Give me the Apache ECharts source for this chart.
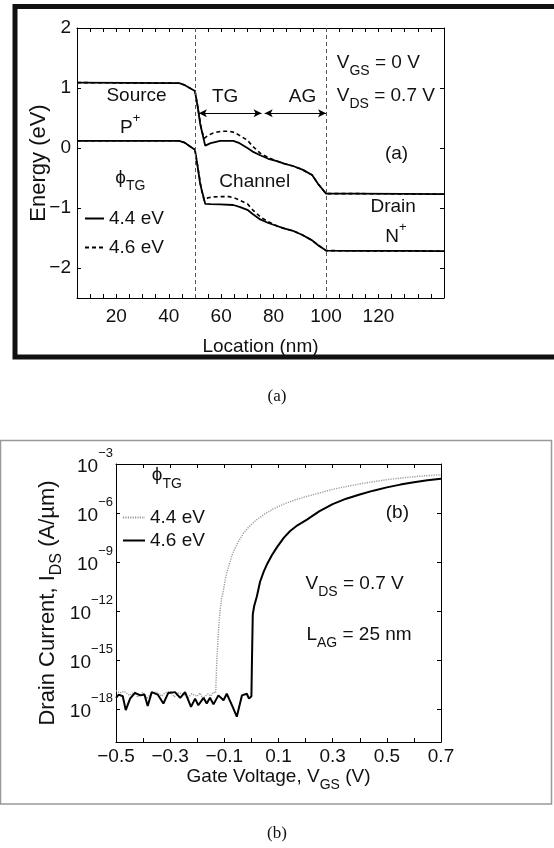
<!DOCTYPE html>
<html>
<head>
<meta charset="utf-8">
<script src="https://cdn.jsdelivr.net/npm/echarts@6/dist/echarts.min.js"></script>
<style>
  html, body { margin: 0; padding: 0; background: #fff; }
  #chart { width: 554px; height: 848px; }
</style>
</head>
<body>
<div id="chart"></div>
<script>
// (a) band diagram, location in nm, energy in eV
const bandLoc44 = [5, 44, 46, 48, 50, 51, 52, 53.9, 56, 59.6, 64.6, 67, 70, 72, 74.9, 78, 81.3, 84, 87.4, 91, 94.7, 97, 100, 110, 130, 145];
const ec44 = [1.09, 1.08, 1.05, 1.0, 0.95, 0.7, 0.4, 0.04, 0.08, 0.12, 0.12, 0.08, 0.0, -0.06, -0.12, -0.18, -0.22, -0.26, -0.3, -0.36, -0.45, -0.6, -0.76, -0.76, -0.765, -0.77];
const ev44 = [0.12, 0.12, 0.09, 0.03, -0.03, -0.3, -0.6, -0.93, -0.935, -0.94, -0.95, -0.98, -1.03, -1.1, -1.19, -1.25, -1.3, -1.34, -1.38, -1.45, -1.54, -1.62, -1.71, -1.713, -1.716, -1.72];
const bandLoc46 = [5, 44, 46, 48, 50, 51, 52.5, 53.5, 55, 57, 60, 63, 65, 67, 70, 72, 75, 78, 81.3, 84, 87.4, 91, 94.7, 97, 100, 110, 130, 145];
const ec46 = [1.09, 1.08, 1.05, 1.0, 0.95, 0.7, 0.3, 0.16, 0.21, 0.25, 0.28, 0.28, 0.26, 0.21, 0.13, 0.03, -0.09, -0.16, -0.22, -0.26, -0.3, -0.36, -0.45, -0.6, -0.76, -0.76, -0.765, -0.77];
const ev46 = [0.12, 0.12, 0.09, 0.03, -0.03, -0.3, -0.7, -0.87, -0.83, -0.815, -0.81, -0.81, -0.83, -0.87, -0.93, -1.03, -1.15, -1.23, -1.3, -1.34, -1.38, -1.45, -1.54, -1.62, -1.71, -1.713, -1.716, -1.72];
const gateEdges = [50, 100];
const locLabels = [20, 40, 60, 80, 100, 120];
const energyTicks = [-2, -1, 0, 1, 2];

// (b) transfer curves, VGS in V, log10 of IDS in A/um
const vgs44 = [-0.5, -0.485, -0.47, -0.45, -0.43, -0.42, -0.4, -0.385, -0.37, -0.35, -0.33, -0.32, -0.3, -0.285, -0.27, -0.25, -0.235, -0.22, -0.2, -0.19, -0.18, -0.16, -0.15, -0.14, -0.132, -0.128, -0.122, -0.116, -0.11, -0.104, -0.095, -0.085, -0.07, -0.05, -0.03, -0.01, 0.02, 0.05, 0.08, 0.12, 0.16, 0.2, 0.25, 0.3, 0.35, 0.4, 0.45, 0.5, 0.55, 0.6, 0.65, 0.7];
const logIds44 = [-16.85, -17.0, -16.9, -17.15, -16.95, -17.25, -16.95, -17.35, -17.0, -16.95, -17.2, -17.0, -16.9, -17.25, -17.0, -17.05, -17.3, -17.05, -17.2, -17.0, -17.35, -17.05, -17.2, -16.95, -17.0, -15.1, -13.3, -12.0, -11.2, -10.8, -9.9, -9.3, -8.5, -7.8, -7.25, -6.85, -6.4, -6.05, -5.75, -5.45, -5.2, -5.0, -4.78, -4.55, -4.38, -4.22, -4.08, -3.96, -3.86, -3.78, -3.71, -3.65];
const vgs46 = [-0.5, -0.49, -0.475, -0.464, -0.448, -0.43, -0.41, -0.395, -0.383, -0.368, -0.346, -0.325, -0.307, -0.282, -0.263, -0.245, -0.223, -0.208, -0.196, -0.177, -0.165, -0.153, -0.14, -0.122, -0.103, -0.091, -0.072, -0.054, -0.035, -0.017, -0.009, 0.0, 0.002, 0.005, 0.01, 0.02, 0.032, 0.045, 0.057, 0.075, 0.094, 0.12, 0.143, 0.17, 0.205, 0.25, 0.3, 0.35, 0.4, 0.45, 0.5, 0.55, 0.6, 0.65, 0.7];
const logIds46 = [-17.3, -17.1, -17.2, -18.05, -17.35, -17.0, -17.15, -17.1, -17.8, -16.95, -17.1, -17.65, -17.0, -16.95, -17.3, -16.95, -17.85, -17.35, -17.75, -17.3, -17.65, -17.3, -17.7, -17.15, -17.45, -17.05, -17.75, -18.45, -17.15, -17.05, -17.35, -17.2, -15.0, -12.2, -11.7, -11.1, -10.2, -9.6, -9.15, -8.6, -8.1, -7.5, -7.1, -6.75, -6.4, -5.9, -5.45, -5.12, -4.87, -4.63, -4.43, -4.26, -4.12, -4.0, -3.9];
const vgsLabels = [-0.5, -0.3, -0.1, 0.1, 0.3, 0.5, 0.7];
const decadeTicks = [-18, -15, -12, -9, -6, -3];

const FONT = "'Liberation Sans', Arial, Helvetica, sans-serif";
const TXT = '#111';
const pair = (xs, ys) => ys.map((v, i) => [xs[i], v]);
const minus = v => (v < 0 ? '\u2212' : '') + Math.abs(v);

// rich styles: m/s = main + subscript, M/p = main + superscript, b/e = 10^n
const rich = {
  m: { fontFamily: FONT, fontSize: 19, color: TXT, fill: TXT, lineHeight: 20, padding: [0, 0, 9, 0] },
  s: { fontFamily: FONT, fontSize: 14, color: TXT, fill: TXT, lineHeight: 15, padding: [11, 0, 3, 0] },
  M: { fontFamily: FONT, fontSize: 19, color: TXT, fill: TXT, lineHeight: 20, padding: [8, 0, 0, 0] },
  p: { fontFamily: FONT, fontSize: 13, color: TXT, fill: TXT, lineHeight: 14, padding: [2, 0, 12, 0] },
  b: { fontFamily: FONT, fontSize: 19, color: TXT, lineHeight: 20, padding: [11, 0, 6, 0] },
  e: { fontFamily: FONT, fontSize: 13, color: TXT, lineHeight: 15, padding: [0, 0, 22, 0] }
};
// larger one for the rotated current title
const richTitle = {
  m: { fontFamily: FONT, fontSize: 22, color: TXT, lineHeight: 23, padding: [0, 0, 10, 0] },
  s: { fontFamily: FONT, fontSize: 16, color: TXT, lineHeight: 17, padding: [12, 0, 4, 0] }
};

const axisBase = {
  type: 'value',
  axisLine: { onZero: false, lineStyle: { color: '#000', width: 1 } },
  axisTick: { inside: true, length: 4, lineStyle: { color: '#000' } },
  splitLine: { show: false },
  axisLabel: { color: TXT, fontSize: 19, fontFamily: FONT },
  nameMoveOverlap: false
};
const mirror = (o) => Object.assign({}, axisBase, o, { axisLabel: { show: false }, name: '' });

const chart = echarts.init(document.getElementById('chart'));

const option = {
  animation: false,
  textStyle: { fontFamily: FONT },
  grid: [
    { left: 77, top: 28, width: 367, height: 270, containLabel: false, outerBoundsMode: 'none' },
    { left: 116, top: 464, width: 325, height: 278, containLabel: false, outerBoundsMode: 'none' }
  ],
  xAxis: [
    Object.assign({}, axisBase, {
      gridIndex: 0, position: 'bottom', min: 5, max: 145, interval: 5,
      axisLabel: { color: TXT, fontSize: 19, fontFamily: FONT, margin: 9, customValues: locLabels },
      name: 'Location (nm)', nameLocation: 'middle', nameGap: 39,
      nameTextStyle: { color: TXT, fontSize: 19, fontFamily: FONT }
    }),
    mirror({ gridIndex: 0, position: 'top', min: 5, max: 145, interval: 5 }),
    Object.assign({}, axisBase, {
      gridIndex: 1, position: 'bottom', min: -0.5, max: 0.7, interval: 0.1,
      axisLabel: { color: TXT, fontSize: 19, fontFamily: FONT, margin: 5, customValues: vgsLabels, formatter: minus },
      name: '{m|Gate Voltage, V}{s|GS}{m| (V)}', nameLocation: 'middle', nameGap: 29,
      nameTextStyle: { rich: rich }
    }),
    mirror({ gridIndex: 1, position: 'top', min: -0.5, max: 0.7, interval: 0.1 })
  ],
  yAxis: [
    Object.assign({}, axisBase, {
      gridIndex: 0, position: 'left', min: -2.5, max: 2,
      axisTick: { inside: true, length: 4, lineStyle: { color: '#000' }, customValues: energyTicks },
      axisLabel: { color: TXT, fontSize: 19, fontFamily: FONT, margin: 6, customValues: energyTicks, formatter: minus },
      name: 'Energy (eV)', nameLocation: 'middle', nameGap: 27,
      nameTextStyle: { color: TXT, fontSize: 22, fontFamily: FONT }
    }),
    mirror({ gridIndex: 0, position: 'right', min: -2.5, max: 2,
      axisTick: { inside: true, length: 4, lineStyle: { color: '#000' }, customValues: energyTicks } }),
    Object.assign({}, axisBase, {
      gridIndex: 1, position: 'left', min: -20, max: -3,
      axisTick: { inside: true, length: 4, lineStyle: { color: '#000' }, customValues: decadeTicks },
      axisLabel: { margin: 3, customValues: decadeTicks, rich: rich,
        formatter: v => '{b|10}{e|' + minus(v) + '}' },
      name: '{m|Drain Current, I}{s|DS}{m| (A/\u00b5m)}', nameLocation: 'middle', nameGap: 52,
      nameTextStyle: { rich: richTitle }
    }),
    mirror({ gridIndex: 1, position: 'right', min: -20, max: -3,
      axisTick: { inside: true, length: 4, lineStyle: { color: '#000' }, customValues: decadeTicks } })
  ],
  legend: [
    { left: 84, top: 209, orient: 'vertical', padding: 0, itemGap: 10, itemWidth: 19, itemHeight: 12,
      selectedMode: false, data: ['4.4 eV', '4.6 eV'], itemStyle: { opacity: 0 },
      textStyle: { color: TXT, fontSize: 19, fontFamily: FONT } },
    { left: 122, top: 508, orient: 'vertical', padding: 0, itemGap: 4, itemWidth: 22, itemHeight: 12,
      selectedMode: false, data: [' 4.4 eV', ' 4.6 eV'], formatter: n => n.trim(), itemStyle: { opacity: 0 },
      textStyle: { color: TXT, fontSize: 19, fontFamily: FONT } }
  ],
  series: [
    { name: '4.6 eV', type: 'line', xAxisIndex: 0, yAxisIndex: 0, symbol: 'none', silent: true, color: '#000',
      lineStyle: { color: '#000', width: 1.6, type: [4, 3] }, data: pair(bandLoc46, ec46),
      markLine: { silent: true, symbol: 'none', label: { show: false },
        lineStyle: { color: '#555', width: 1, type: [4, 3] },
        data: gateEdges.map(x => ({ xAxis: x })) } },
    { name: '4.6 eV', type: 'line', xAxisIndex: 0, yAxisIndex: 0, symbol: 'none', silent: true, color: '#000',
      lineStyle: { color: '#000', width: 1.6, type: [4, 3] }, data: pair(bandLoc46, ev46) },
    { name: '4.4 eV', type: 'line', xAxisIndex: 0, yAxisIndex: 0, symbol: 'none', silent: true, color: '#000',
      lineStyle: { color: '#000', width: 1.8 }, data: pair(bandLoc44, ec44),
      markLine: { silent: true, symbol: ['arrow', 'arrow'], symbolSize: [6, 8], label: { show: false },
        lineStyle: { color: '#000', width: 1, type: 'solid' },
        data: [
          [{ coord: [51.5, 0.58] }, { coord: [75.4, 0.58] }],
          [{ coord: [76.6, 0.58] }, { coord: [100, 0.58] }]
        ] } },
    { name: '4.4 eV', type: 'line', xAxisIndex: 0, yAxisIndex: 0, symbol: 'none', silent: true, color: '#000',
      lineStyle: { color: '#000', width: 1.8 }, data: pair(bandLoc44, ev44) },
    { name: ' 4.4 eV', type: 'line', xAxisIndex: 2, yAxisIndex: 2, symbol: 'none', silent: true, color: '#9a9a9a',
      lineStyle: { color: '#9a9a9a', width: 1.4, type: [1.2, 1.2] }, data: pair(vgs44, logIds44) },
    { name: ' 4.6 eV', type: 'line', xAxisIndex: 2, yAxisIndex: 2, symbol: 'none', silent: true, color: '#000',
      lineStyle: { color: '#000', width: 2 }, data: pair(vgs46, logIds46) }
  ]
};
chart.setOption(option);

// annotations, placed in data coordinates of each panel
// kind: plain (middle anchored), sub (main + subscript), sup (main + superscript)
const notes = [
  { g: 0, at: [27.7, 0.865], text: 'Source', align: 'center', kind: 'plain' },
  { g: 0, at: [25.3, 0.27], text: '{M|P}{p|+}', align: 'center', kind: 'sup' },
  { g: 0, at: [61.5, 0.86], text: 'TG', align: 'center', kind: 'plain' },
  { g: 0, at: [91, 0.86], text: 'AG', align: 'center', kind: 'plain' },
  { g: 0, at: [72.8, -0.57], text: 'Channel', align: 'center', kind: 'plain' },
  { g: 0, at: [19.6, -0.57], text: '{m|\u03d5}{s|TG}', align: 'left', kind: 'sub' },
  { g: 0, at: [104.1, 1.34], text: '{m|V}{s|GS}{m| = 0 V}', align: 'left', kind: 'sub' },
  { g: 0, at: [104.1, 0.80], text: '{m|V}{s|DS}{m| = 0.7 V}', align: 'left', kind: 'sub' },
  { g: 0, at: [126.9, -0.1], text: '(a)', align: 'center', kind: 'plain' },
  { g: 0, at: [125.6, -0.98], text: 'Drain', align: 'center', kind: 'plain' },
  { g: 0, at: [126.7, -1.54], text: '{M|N}{p|+}', align: 'center', kind: 'sup' },
  { g: 1, at: [-0.368, -3.96], text: '{m|\u03d5}{s|TG}', align: 'left', kind: 'sub' },
  { g: 1, at: [0.2, -10.58], text: '{m|V}{s|DS}{m| = 0.7 V}', align: 'left', kind: 'sub' },
  { g: 1, at: [0.203, -13.7], text: '{m|L}{s|AG}{m| = 25 nm}', align: 'left', kind: 'sub' },
  { g: 1, at: [0.539, -5.98], text: '(b)', align: 'center', kind: 'plain' }
];

const graphic = [
  { type: 'rect', shape: { x: 15, y: 6.5, width: 560, height: 350.5 },
    style: { fill: 'none', stroke: '#111', lineWidth: 5 }, silent: true },
  { type: 'rect', shape: { x: 0.5, y: 440.5, width: 551, height: 363.5 },
    style: { fill: 'none', stroke: '#999', lineWidth: 1.5 }, silent: true },
  { type: 'text', x: 277, y: 397, silent: true,
    style: { text: '(a)', fill: TXT, font: "17px 'Liberation Serif', 'Times New Roman', serif",
      align: 'center', verticalAlign: 'middle', textAlign: 'center', textVerticalAlign: 'middle' } },
  { type: 'text', x: 277, y: 834, silent: true,
    style: { text: '(b)', fill: TXT, font: "17px 'Liberation Serif', 'Times New Roman', serif",
      align: 'center', verticalAlign: 'middle', textAlign: 'center', textVerticalAlign: 'middle' } }
];

notes.forEach(n => {
  const p = chart.convertToPixel({ xAxisIndex: n.g * 2, yAxisIndex: n.g * 2 }, n.at);
  let y = p[1], va = 'middle';
  if (n.kind === 'sub') { y = p[1] - 10; va = 'top'; }
  if (n.kind === 'sup') { y = p[1] - 18; va = 'top'; }
  const style = n.kind === 'plain'
    ? { text: n.text, fill: TXT, font: '19px ' + FONT }
    : { text: n.text, rich: rich, fill: TXT, font: '19px ' + FONT };
  Object.assign(style, { align: n.align, verticalAlign: va, textAlign: n.align, textVerticalAlign: va });
  graphic.push({ type: 'text', x: p[0], y: y, silent: true, style: style });
});

chart.setOption({ graphic: graphic });
</script>
</body>
</html>
